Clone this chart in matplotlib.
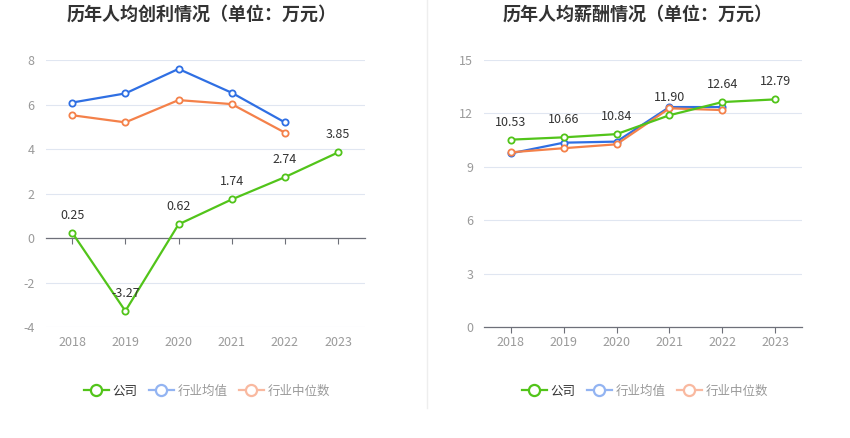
import matplotlib
matplotlib.use("Agg")
import matplotlib.pyplot as plt
from matplotlib.lines import Line2D

plt.rcParams['font.family'] = ['Noto Sans CJK SC', 'DejaVu Sans']
plt.rcParams['axes.unicode_minus'] = False

# data
years = ['2018', '2019', '2020', '2021', '2022', '2023']

profit_company = [0.25, -3.27, 0.62, 1.74, 2.74, 3.85]
profit_avg = [6.09, 6.50, 7.60, 6.53, 5.20]
profit_median = [5.52, 5.20, 6.20, 6.02, 4.74]

salary_company = [10.53, 10.66, 10.84, 11.90, 12.64, 12.79]
salary_avg = [9.76, 10.36, 10.42, 12.36, 12.36]
salary_median = [9.82, 10.05, 10.27, 12.29, 12.19]

legend_names = ['公司', '行业均值', '行业中位数']

GREEN = '#52C41A'
BLUE = '#2F6FE3'
ORANGE = '#F4814A'
GRID = '#E0E6F1'
AXIS = '#6E7079'

W, H = 850, 438
fig = plt.figure(figsize=(W / 100, H / 100), dpi=100)


def px_axes(x0, x1, y0, y1):
    # y0 top pixel, y1 bottom pixel
    return fig.add_axes([x0 / W, (H - y1) / H, (x1 - x0) / W, (y1 - y0) / H])


def draw_panel(ax, title, company, avg, median, ylim, yticks, tx):
    x = list(range(len(years)))
    ax.set_xlim(-0.5, len(years) - 0.5)
    ax.set_ylim(*ylim)
    ax.set_yticks(yticks)
    ax.yaxis.grid(True, color=GRID, lw=0.8)
    ax.set_axisbelow(True)
    for s in ['top', 'right', 'left']:
        ax.spines[s].set_visible(False)
    # axis line sits on zero, labels stay at the bottom
    ax.spines['bottom'].set_position(('data', 0))
    ax.spines['bottom'].set_color(AXIS)
    ax.spines['bottom'].set_linewidth(0.9)
    ax.set_xticks(x)
    ax.tick_params(axis='x', direction='out', length=4, color=AXIS, labelbottom=False)
    ax.tick_params(axis='y', length=0, pad=8, labelcolor='#9A9A9A', labelsize=9)

    sec = ax.secondary_xaxis(0)
    sec.set_xticks(x)
    sec.set_xticklabels(years)
    sec.spines['bottom'].set_visible(False)
    sec.tick_params(length=0, pad=6, labelcolor='#9A9A9A', labelsize=9)

    mk = dict(marker='o', ms=4.5, mfc='white', mew=1.3, lw=1.6)
    ax.plot(x[:len(avg)], avg, color=BLUE, zorder=3, **mk)
    ax.plot(x[:len(median)], median, color=ORANGE, zorder=3, **mk)
    ax.plot(x, company, color=GREEN, zorder=4, **mk)
    for xi, v in zip(x, company):
        ax.annotate(f'{v:.2f}', (xi, v), xytext=(0, 8), textcoords='offset points',
                    ha='center', va='bottom', fontsize=9, color='#333333', zorder=5)

    fig.text(tx / W, 1 - 14 / H, title, ha='center', va='center',
             fontsize=13, fontweight='bold', color='#333333')

    handles = [
        Line2D([], [], color=GREEN, marker='o', ms=8, mfc='white', mew=1.6, lw=1.6),
        Line2D([], [], color='#93B4F2', marker='o', ms=8, mfc='white', mew=1.6, lw=1.6),
        Line2D([], [], color='#F9B9A0', marker='o', ms=8, mfc='white', mew=1.6, lw=1.6),
    ]
    pos = ax.get_position()
    leg = fig.legend(handles, legend_names, ncol=3, frameon=False,
                     loc='center', bbox_to_anchor=(pos.x0 + pos.width / 2 + 2 / W, 1 - 391 / H),
                     fontsize=9, handlelength=2.0, handletextpad=0.3, columnspacing=0.9)
    for i, t in enumerate(leg.get_texts()):
        t.set_color('#333333' if i == 0 else '#9A9A9A')


ax1 = px_axes(45.6, 364.6, 60, 327.3)
ax2 = px_axes(484.3, 801.7, 60, 327.3)

draw_panel(ax1, '历年人均创利情况（单位：万元）', profit_company, profit_avg, profit_median,
           (-4, 8), [-4, -2, 0, 2, 4, 6, 8], 202)
draw_panel(ax2, '历年人均薪酬情况（单位：万元）', salary_company, salary_avg, salary_median,
           (0, 15), [0, 3, 6, 9, 12, 15], 638)

# thin divider between the two panels
fig.add_artist(Line2D([427 / W, 427 / W], [1 - 408 / H, 1.0], color='#EEEEEE', lw=1))

fig.savefig('out.png', dpi=100)
